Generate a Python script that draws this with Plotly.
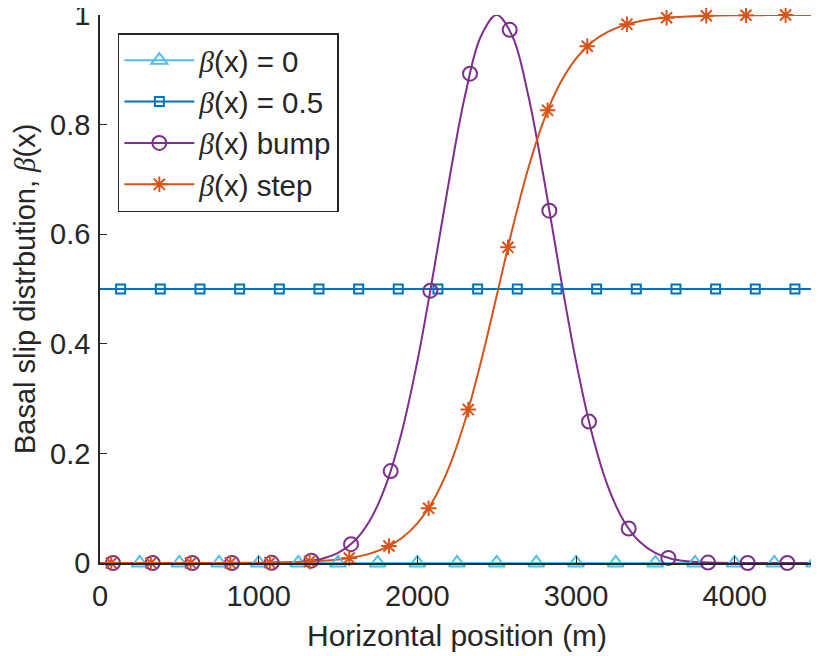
import plotly.graph_objects as go

# ---- data ----
x_line = [0, 100, 200, 300, 400, 500, 600, 700, 800, 900,
          1000, 1100, 1200, 1300, 1400, 1500, 1600, 1700, 1800, 1900,
          2000, 2100, 2200, 2300, 2400, 2500, 2600, 2700, 2800, 2900,
          3000, 3100, 3200, 3300, 3400, 3500, 3600, 3700, 3800, 3900,
          4000, 4100, 4200, 4300, 4400, 4500]
zero_line = [0.0] * len(x_line)
half_line = [0.5] * len(x_line)
bump_line = [0, 0, 0, 0, 0, 0, 0, 0, 0, 0,
             0.0001, 0.0004, 0.0012, 0.0032, 0.0079, 0.0183, 0.0392, 0.0773, 0.1409, 0.2369,
             0.3679, 0.5273, 0.6977, 0.8521, 0.9608, 1.0, 0.9608, 0.8521, 0.6977, 0.5273,
             0.3679, 0.2369, 0.1409, 0.0773, 0.0392, 0.0183, 0.0079, 0.0032, 0.0012, 0.0004,
             0.0001, 0, 0, 0, 0, 0]
step_line = [0, 0, 0, 0, 0, 0, 0, 0, 0.0002, 0.0003,
             0.0005, 0.0009, 0.0014, 0.0024, 0.0039, 0.0064, 0.0105, 0.0171, 0.0279, 0.0452,
             0.0724, 0.1141, 0.1751, 0.2592, 0.3659, 0.4875, 0.6107, 0.7211, 0.8100, 0.8754,
             0.9206, 0.9503, 0.9692, 0.9811, 0.9885, 0.9930, 0.9957, 0.9974, 0.9984, 0.9990,
             0.9994, 0.9996, 0.9998, 0.9999, 0.9999, 1.0]

tri_x = [250, 500, 750, 1000, 1250, 1500, 1750, 2000, 2250, 2500,
         2750, 3000, 3250, 3500, 3750, 4000, 4250, 4500]
tri_y = [0.0] * len(tri_x)
sq_x = [130, 380, 630, 880, 1130, 1380, 1630, 1880, 2130, 2380,
        2630, 2880, 3130, 3380, 3630, 3880, 4130, 4380]
sq_y = [0.5] * len(sq_x)
circ_x = [82, 332, 582, 832, 1082, 1332, 1582, 1832, 2082, 2332,
          2582, 2832, 3082, 3332, 3582, 3832, 4082, 4332]
circ_y = [0, 0, 0, 0, 0.0003, 0.0043, 0.0344, 0.1678, 0.497, 0.893,
          0.973, 0.643, 0.258, 0.063, 0.0093, 0.0008, 0, 0]
star_x = [71, 321, 571, 821, 1071, 1321, 1571, 1821, 2071, 2321,
          2571, 2821, 3071, 3321, 3571, 3821, 4071, 4321]
star_y = [0, 0, 0.0001, 0.0002, 0.0008, 0.0026, 0.0091, 0.031, 0.100, 0.280,
          0.576, 0.826, 0.943, 0.983, 0.995, 0.9986, 0.9996, 0.9999]

x_ticks = [0, 1000, 2000, 3000, 4000]
y_ticks = [0, 0.2, 0.4, 0.6, 0.8, 1]
y_tick_labels = ["0", "0.2", "0.4", "0.6", "0.8", "1"]

BETA = '<span style="font-family:\'Liberation Serif\'"><i>β</i></span>'
names = [BETA + "(x) = 0", BETA + "(x) = 0.5", BETA + "(x) bump", BETA + "(x) step"]
x_title = "Horizontal position (m)"
y_title = "Basal slip distrbution, " + BETA + "(x)"
colors = ["#4DBEEE", "#0072BD", "#7E2F8E", "#D95319"]
symbols = ["triangle-up-open", "square-open", "circle-open", "asterisk-open"]
msizes = [14, 9, 14, 13]

series = [
    (zero_line, tri_x, tri_y),
    (half_line, sq_x, sq_y),
    (bump_line, circ_x, circ_y),
    (step_line, star_x, star_y),
]

fig = go.Figure()
for i, (yl, mx, my) in enumerate(series):
    fig.add_trace(go.Scatter(x=x_line, y=yl, mode="lines",
                             line=dict(color=colors[i], width=2, shape="spline"),
                             showlegend=False, hoverinfo="skip"))
for i, (yl, mx, my) in enumerate(series):
    fig.add_trace(go.Scatter(x=mx, y=my, mode="markers", cliponaxis=False,
                             marker=dict(symbol=symbols[i], size=msizes[i], color=colors[i],
                                         line=dict(color=colors[i], width=2)),
                             showlegend=False))
for i in range(4):
    fig.add_trace(go.Scatter(x=[None], y=[None], mode="lines+markers", name=names[i],
                             line=dict(color=colors[i], width=2),
                             marker=dict(symbol=symbols[i], size=msizes[i], color=colors[i],
                                         line=dict(color=colors[i], width=2))))

axis_color = "#262626"
fig.update_layout(
    width=811, height=648,
    margin=dict(l=92, r=5, t=7, b=93),
    plot_bgcolor="white", paper_bgcolor="white",
    font=dict(family="Liberation Sans, Arial, sans-serif", color=axis_color),
    xaxis=dict(range=[0, 4500], tickvals=x_ticks, ticks="inside", ticklen=7,
               tickcolor=axis_color, showline=True, linecolor=axis_color, linewidth=1.5,
               showgrid=False, zeroline=False, tickfont=dict(size=29), automargin=False,
               ticklabelstandoff=6, ticklabeloverflow="allow"),
    yaxis=dict(range=[0, 1], tickvals=y_ticks, ticktext=y_tick_labels, ticks="inside",
               ticklen=7, tickcolor=axis_color, showline=True, linecolor=axis_color,
               linewidth=1.5, showgrid=False, zeroline=False, tickfont=dict(size=29),
               automargin=False, ticklabelstandoff=2, ticklabeloverflow="allow"),
    legend=dict(x=0.025, y=0.967, xanchor="left", yanchor="top",
                bgcolor="white", bordercolor=axis_color, borderwidth=1.5,
                font=dict(size=29.5), itemwidth=70, tracegroupgap=0),
    annotations=[
        dict(text=x_title, xref="paper", yref="paper", x=0.5, y=-0.133,
             xanchor="center", yanchor="middle", showarrow=False, font=dict(size=30)),
        dict(text=y_title, xref="paper", yref="paper", x=-0.105, y=0.5,
             xanchor="center", yanchor="middle", showarrow=False, textangle=-90,
             font=dict(size=29)),
    ],
)

fig.write_html("out.html")
